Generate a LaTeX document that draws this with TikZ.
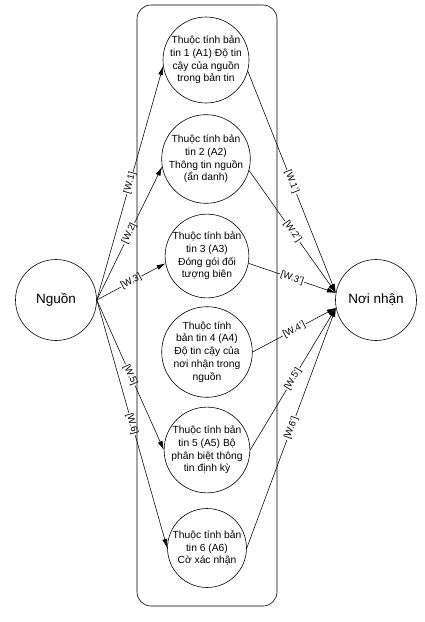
\documentclass[tikz,border=0pt]{standalone}
\usepackage{fontspec}
\setmainfont{Liberation Sans}
\usetikzlibrary{arrows.meta}
\begin{document}
\begin{tikzpicture}[x=1pt,y=-1pt,
  attr/.style={circle,draw,line width=0.6pt,minimum size=79pt,inner sep=0pt,align=center,font=\fontsize{10.3}{12.8}\selectfont},
  big/.style={circle,draw,line width=0.6pt,minimum size=81pt,inner sep=0pt,font=\fontsize{13.5}{16}\selectfont},
  arr/.style={-{Latex[length=9pt,width=5pt]},line width=0.55pt},
  lab/.style={sloped,fill=white,inner sep=0.8pt,pos=0.5,font=\fontsize{9.5}{11}\selectfont}]
\useasboundingbox (0,0) rectangle (425,622);
\node[big] (src) at (56,300) {Nguồn};
\node[big] (dst) at (376,300) {Nơi nhận};
\node[attr] (a1) at (206,60) {Thuộc tính bản\\tin 1 (A1) Độ tin\\cậy của nguồn\\trong bản tin};
\node[attr] (a2) at (206,159) {Thuộc tính bản\\tin 2 (A2)\\Thông tin nguồn\\(ẩn danh)};
\node[attr] (a3) at (207,256) {Thuộc tính bản\\tin 3 (A3)\\Đóng gói đối\\tượng biên};
\node[attr] (a4) at (207,352) {Thuộc tính\\bản tin 4 (A4)\\Độ tin cậy của\\nơi nhận trong\\nguồn};
\node[attr] (a5) at (207,450) {Thuộc tính bản\\tin 5 (A5) Bộ\\phân biệt thông\\tin định kỳ};
\node[attr] (a6) at (207,548) {Thuộc tính bản\\tin 6 (A6)\\Cờ xác nhận};
\draw[arr] (src.east) -- node[lab]{[W.1]} (a1.188);
\draw[arr] (src.east) -- node[lab]{[W.2]} (a2.190);
\draw[arr] (src.east) -- node[lab]{[W.3]} (a3.190);
\draw[arr] (src.east) -- node[lab]{[W.5]} (a5.west);
\draw[arr] (src.east) -- node[lab]{[W.6]} (a6.west);
\draw[arr] (a1.345) -- node[lab]{[W.1']} (dst.170);
\draw[arr] (a2.345) -- node[lab]{[W.2']} (dst.170);
\draw[arr] (a3.350) -- node[lab]{[W.3']} (dst.170);
\draw[arr] (a4.east) -- node[lab]{[W.4']} (dst.191);
\draw[arr] (a5.east) -- node[lab]{[W.5']} (dst.191);
\draw[arr] (a6.east) -- node[lab]{[W.6']} (dst.191);
\draw[rounded corners=14pt,line width=0.6pt] (137,5) rectangle (277,606);
\end{tikzpicture}
\end{document}
